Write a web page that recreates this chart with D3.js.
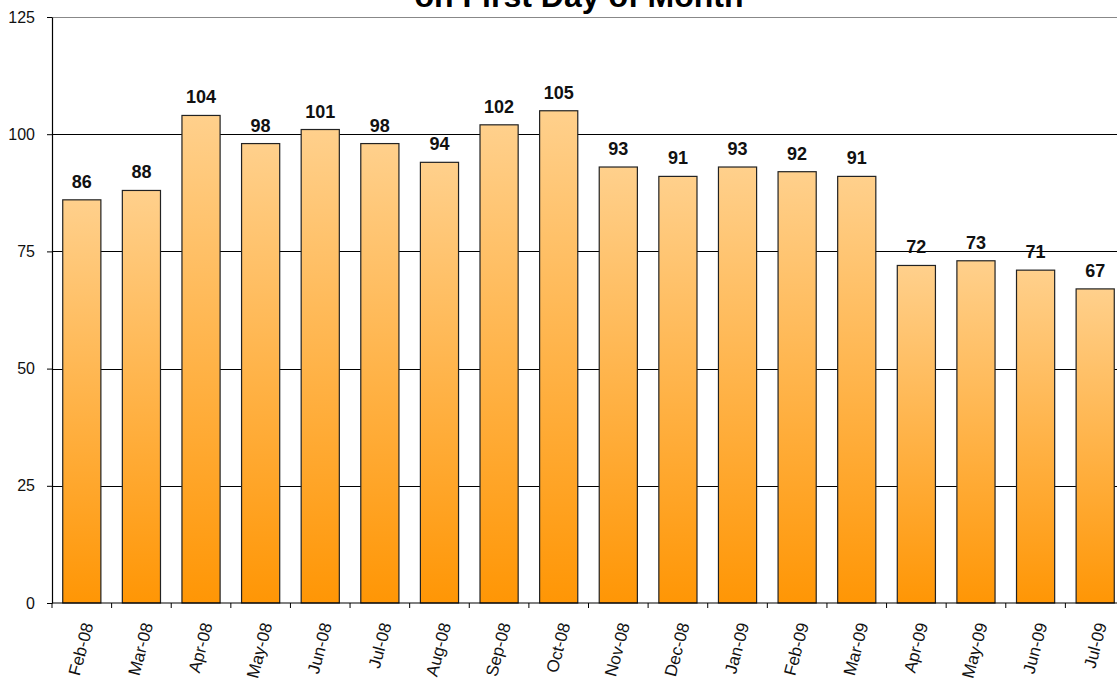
<!DOCTYPE html>
<html>
<head>
<meta charset="utf-8">
<script src="https://cdn.jsdelivr.net/npm/d3@7"></script>
<style>
  body { margin: 0; background: #fff; }
  svg { display: block; font-family: "Liberation Sans", Arial, sans-serif; }
  .grid line { stroke: #000; stroke-width: 1; }
  .axis path, .axis line { stroke: #000; }
  .axis text { fill: #111; font-size: 16px; }
  .xlab text { font-size: 17px; }
</style>
</head>
<body>
<svg id="chart"></svg>
<script>
// chart size
var width = 1117,
    height = 681;

var months = ["Feb-08", "Mar-08", "Apr-08", "May-08", "Jun-08", "Jul-08", "Aug-08", "Sep-08", "Oct-08",
              "Nov-08", "Dec-08", "Jan-09", "Feb-09", "Mar-09", "Apr-09", "May-09", "Jun-09", "Jul-09"];
var counts = [86, 88, 104, 98, 101, 98, 94, 102, 105, 93, 91, 93, 92, 91, 72, 73, 71, 67];
var yTicks = [0, 25, 50, 75, 100, 125];

var margin = {top: 17, left: 52, bottom: 78};
var plotRight = 1125; // the plot runs a bit past the window edge

var svg = d3.select("#chart")
    .attr("width", width)
    .attr("height", height);

// gradient for the bars
var grad = svg.append("defs").append("linearGradient")
    .attr("id", "barGrad")
    .attr("x1", 0).attr("y1", 0).attr("x2", 0).attr("y2", 1);
grad.append("stop").attr("offset", "0%").attr("stop-color", "#ffd08c");
grad.append("stop").attr("offset", "100%").attr("stop-color", "#ff9605");

var x = d3.scaleBand()
    .domain(months)
    .range([margin.left, plotRight])
    .paddingInner(0.36)
    .paddingOuter(0.18);

var y = d3.scaleLinear()
    .domain([0, 125])
    .range([height - margin.bottom, margin.top]);

// title, mostly cut off at top (as in the original)
svg.append("text")
    .attr("x", 579)
    .attr("y", 7)
    .attr("text-anchor", "middle")
    .attr("font-size", "32px")
    .attr("font-weight", "bold")
    .text("on First Day of Month");

// gridlines
svg.append("g")
    .attr("class", "grid")
  .selectAll("line")
    .data(yTicks.filter(function(d) { return d > 0; }))
  .enter().append("line")
    .attr("x1", margin.left)
    .attr("x2", plotRight)
    .attr("y1", function(d) { return Math.round(y(d)) + 0.5; })
    .attr("y2", function(d) { return Math.round(y(d)) + 0.5; })
    .style("stroke", function(d) { return d === 125 ? "#888" : "#000"; });

// bars
svg.append("g")
  .selectAll("rect")
    .data(counts)
  .enter().append("rect")
    .attr("x", function(d, i) { return x(months[i]); })
    .attr("y", function(d) { return y(d); })
    .attr("width", x.bandwidth())
    .attr("height", function(d) { return y(0) - y(d); })
    .attr("fill", "url(#barGrad)")
    .attr("stroke", "#222")
    .attr("stroke-width", 1.2);

// value labels
svg.append("g")
  .selectAll("text")
    .data(counts)
  .enter().append("text")
    .attr("x", function(d, i) { return x(months[i]) + x.bandwidth() / 2; })
    .attr("y", function(d) { return y(d) - 12; })
    .attr("text-anchor", "middle")
    .attr("font-size", "18px")
    .attr("font-weight", "bold")
    .attr("fill", "#111")
    .text(function(d) { return d; });

// y axis
var yAxis = svg.append("g")
    .attr("class", "axis")
    .attr("transform", "translate(" + margin.left + ",0)")
    .call(d3.axisLeft(y).tickValues(yTicks).tickSize(5).tickSizeOuter(0).tickPadding(12));
yAxis.select(".domain").attr("stroke-width", 1.2);

// x axis with ticks between categories
var xAxis = svg.append("g")
    .attr("class", "axis xlab")
    .attr("transform", "translate(0," + y(0) + ")");

xAxis.append("line")
    .attr("x1", margin.left).attr("x2", plotRight)
    .attr("y1", 0).attr("y2", 0)
    .attr("stroke", "#000").attr("stroke-width", 1.2);

xAxis.selectAll(".tk")
    .data(d3.range(months.length + 1))
  .enter().append("line")
    .attr("class", "tk")
    .attr("x1", function(i) { return margin.left + i * (plotRight - margin.left) / months.length; })
    .attr("x2", function(i) { return margin.left + i * (plotRight - margin.left) / months.length; })
    .attr("y1", 0).attr("y2", 5)
    .attr("stroke", "#000");

xAxis.selectAll("text")
    .data(months)
  .enter().append("text")
    .attr("transform", function(d) {
      return "translate(" + (x(d) + x.bandwidth() / 2 + 6) + ",20) rotate(-75)";
    })
    .attr("text-anchor", "end")
    .attr("dy", "0.35em")
    .text(function(d) { return d; });
</script>
</body>
</html>
